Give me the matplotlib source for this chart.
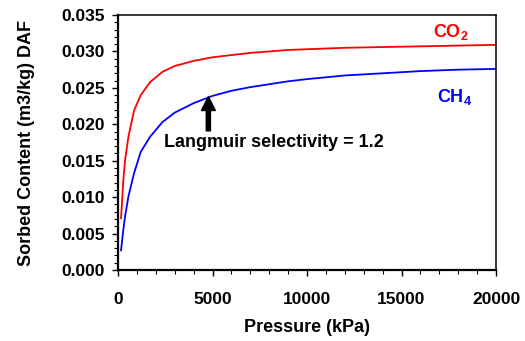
import matplotlib
matplotlib.use("Agg")
import matplotlib.pyplot as plt
from matplotlib.ticker import MultipleLocator, FormatStrFormatter

plt.rcParams['font.family'] = ['Liberation Sans', 'DejaVu Sans']
plt.rcParams['font.weight'] = 'bold'
plt.rcParams['mathtext.fontset'] = 'custom'
plt.rcParams['mathtext.rm'] = 'Liberation Sans'
plt.rcParams['mathtext.bf'] = 'Liberation Sans:bold'

# values
pressure = [160, 280, 370, 550, 850, 1200, 1700, 2350, 3000, 4000, 5000, 6000,
            7000, 8000, 9000, 10000, 12000, 14000, 16000, 18000, 20000]
co2 = [0.0071, 0.0123, 0.0150, 0.0183, 0.0219, 0.0240, 0.0258, 0.0272, 0.0280,
       0.0287, 0.0292, 0.0295, 0.0298, 0.0300, 0.0302, 0.0303, 0.0305, 0.0306,
       0.0307, 0.0308, 0.0309]
ch4 = [0.0027, 0.0055, 0.0073, 0.0101, 0.0133, 0.0162, 0.0183, 0.0203, 0.0216,
       0.0229, 0.0239, 0.0246, 0.0251, 0.0255, 0.0259, 0.0262, 0.0267, 0.0270,
       0.0273, 0.0275, 0.0276]

fig = plt.figure(figsize=(5.25, 3.41), dpi=100)
ax = fig.add_axes([0.2248, 0.2082, 0.72, 0.7478])

ax.plot(pressure, co2, color='#ff0000', lw=1.3)
ax.plot(pressure, ch4, color='#0000ff', lw=1.3)

ax.set_xlim(0, 20000)
ax.set_ylim(0, 0.035)
ax.xaxis.set_major_locator(MultipleLocator(5000))
ax.xaxis.set_minor_locator(MultipleLocator(1000))
ax.yaxis.set_major_locator(MultipleLocator(0.005))
ax.yaxis.set_minor_locator(MultipleLocator(0.001))
ax.yaxis.set_major_formatter(FormatStrFormatter('%.3f'))

for s in ax.spines.values():
    s.set_linewidth(1.1)
ax.spines['left'].set_linewidth(1.6)
ax.spines['bottom'].set_linewidth(1.6)
ax.tick_params(which='major', length=4.5, width=1.0, labelsize=12.5)
ax.tick_params(which='minor', length=3, width=0.8)
ax.tick_params(axis='x', which='major', pad=11)
ax.tick_params(axis='y', which='major', pad=5)
for lab in ax.get_xticklabels() + ax.get_yticklabels():
    lab.set_fontweight('bold')

ax.set_xlabel('Pressure (kPa)', fontsize=13, fontweight='bold', labelpad=9)
ax.set_ylabel('Sorbed Content (m3/kg) DAF', fontsize=13, fontweight='bold', labelpad=19)

ax.text(17620, 0.0326, 'CO$_\\mathbf{2}$', color='#ff0000', fontsize=13,
        fontweight='bold', ha='center', va='center')
ax.text(17800, 0.0237, 'CH$_\\mathbf{4}$', color='#0000ff', fontsize=13,
        fontweight='bold', ha='center', va='center')
ax.text(8250, 0.0175, 'Langmuir selectivity = 1.2', fontsize=13,
        fontweight='bold', ha='center', va='center')
ax.annotate('', xy=(4780, 0.0238), xytext=(4780, 0.0191),
            arrowprops=dict(width=3, headwidth=10, headlength=10, shrink=0,
                            color='black'))

fig.savefig('out.png', dpi=100)
